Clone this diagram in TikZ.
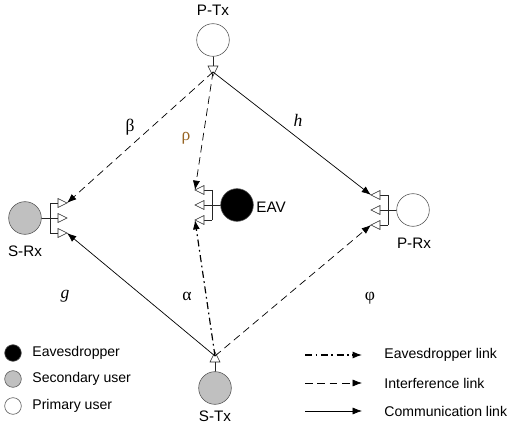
\documentclass[tikz,border=0pt]{standalone}
\usepackage{fontspec}
\setmainfont{Liberation Sans}
\newfontfamily\grk{Liberation Serif}
\usetikzlibrary{arrows.meta}
\definecolor{usergray}{RGB}{192,192,192}
\definecolor{rhobrown}{RGB}{150,100,35}
\tikzset{
  user/.style={circle,draw=black!65,line width=0.5pt,minimum size=0.98cm,inner sep=0pt},
  keydot/.style={circle,draw=black!65,line width=0.5pt,minimum size=0.5cm,inner sep=0pt},
  lbl/.style={font=\fontsize{12}{14}\selectfont,inner sep=1pt},
  nlbl/.style={font=\fontsize{13}{15}\selectfont,inner sep=1pt},
  glbl/.style={font=\grk\fontsize{15}{17}\selectfont,inner sep=1pt},
  ant/.style={draw=black!85,line width=0.5pt},
  comm/.style={->,line width=0.6pt},
  intf/.style={->,line width=0.6pt,dash pattern=on 6.5pt off 4pt},
  eave/.style={->,line width=1pt,dash pattern=on 6pt off 3pt on 1.5pt off 3pt},
}

\begin{document}
\begin{tikzpicture}[x=0.03cm,y=-0.03cm,>={Latex[length=8pt,width=6pt]}]
    \useasboundingbox (0,0) rectangle (509,430);
    % receivers
    \foreach \n/\x/\y/\d/\c in {srx/25/218/1/usergray,eav/237/205/-1/black,prx/413/210/-1/white}{
        \draw[ant] (\x,\y) -- ({\x+25*\d},\y);
        \draw[ant] ({\x+25*\d},{\y-15}) -- ({\x+25*\d},{\y+15});
        \foreach \k/\o in {1/-15,2/0,3/15}{
            \draw[ant] ({\x+25*\d},{\y+\o}) -- ({\x+33*\d},{\y+\o});
            \draw[ant,fill=white] ({\x+33*\d},{\y+\o-4.5}) -- ({\x+42*\d},{\y+\o}) -- ({\x+33*\d},{\y+\o+4.5}) -- cycle;
            \coordinate (\n\k) at ({\x+42*\d},{\y+\o});
        }
        \node[user,fill=\c] (\n) at (\x,\y) {};
    }
    % transmitters
    \foreach \n/\x/\y/\d/\c in {ptx/213/40/1/white,stx/215/388/-1/usergray}{
        \draw[ant] (\x,\y) -- (\x,{\y+26*\d});
        \draw[ant] ({\x-5},{\y+26*\d}) -- ({\x+5},{\y+26*\d}) -- (\x,{\y+36*\d}) -- cycle;
        \coordinate (\n0) at (\x,{\y+32*\d});
        \node[user,fill=\c] (\n) at (\x,\y) {};
    }
    \node[nlbl] (ptxl) at (213,10) {P-Tx};
    \node[nlbl] (stxl) at (215,416) {S-Tx};
    \node[nlbl] (srxl) at (25,251) {S-Rx};
    \node[nlbl] (prxl) at (414,243) {P-Rx};
    \node[nlbl,anchor=west] (eavl) at (255,207) {EAV};

    \draw[intf] (ptx0) -- (srx1);
    \draw[intf] (ptx0) -- (eav1);
    \draw[comm] (ptx0) -- (prx1);
    \draw[comm] (stx0) -- (srx3);
    \draw[eave] (stx0) -- (eav3);
    \draw[intf] (stx0) -- (prx3);

    \node[glbl] (beta) at (130,127) {β};
    \node[glbl,text=rhobrown] (rho) at (186,138) {ρ};
    \node[glbl] (hh) at (298,120) {\itshape h};
    \node[glbl] (gg) at (65,296) {\itshape g};
    \node[glbl] (alpha) at (187,296) {α};
    \node[glbl] (phi) at (370,298) {φ};

    % legend
    \foreach \i/\y/\c/\t in {1/353/black/Eavesdropper,2/379/usergray/Secondary user,3/406/white/Primary user}{
        \node[keydot,fill=\c] (dot\i) at (13,\y) {};
        \node[lbl,anchor=west] (dotl\i) at (31,\y) {\t};
    }
    \foreach \i/\y/\s/\t in {1/355/eave/Eavesdropper link,2/383/intf/Interference link,3/411/comm/Communication link}{
        \coordinate (ka\i) at (305,\y);
        \coordinate (kb\i) at (362,\y);
        \draw[\s] (ka\i) -- (kb\i);
        \node[lbl,anchor=west] (kl\i) at (383,\y) {\t};
    }
\end{tikzpicture}
\end{document}
